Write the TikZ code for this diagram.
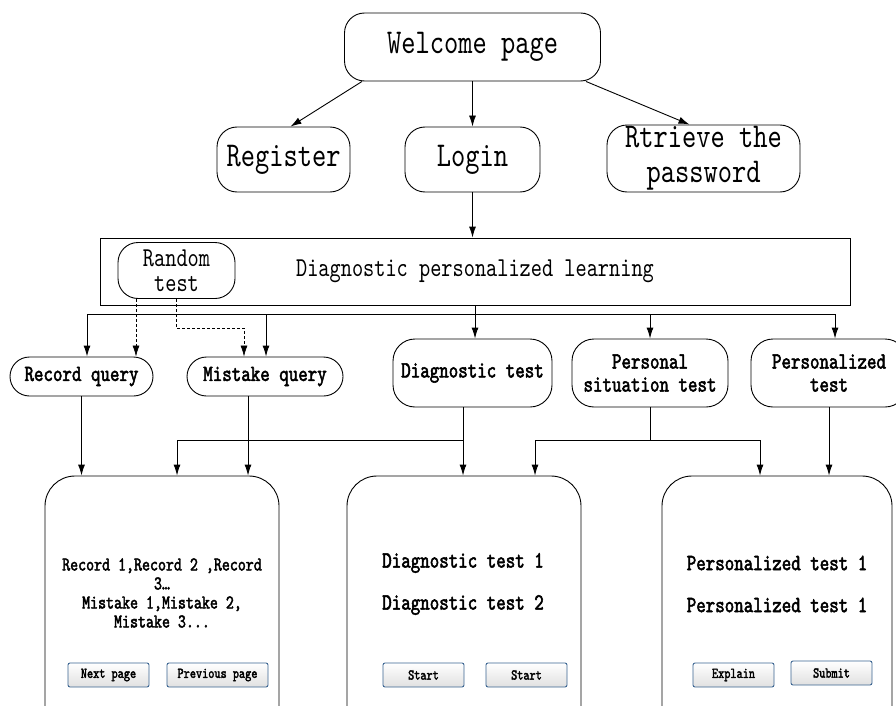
\documentclass[tikz,border=0pt]{standalone}
\usepackage{fontspec}
\newfontfamily\monofont{lmmono10-regular.otf}[BoldFont=lmmono10-regular.otf,BoldFeatures={FakeBold=2.2},FakeStretch=0.78]
\usetikzlibrary{positioning,arrows.meta}
\definecolor{btnblue}{RGB}{58,100,145}

\begin{document}
\begin{tikzpicture}[x=1pt,y=-1pt,line width=0.9pt,
    arr/.style={-{Latex[length=11pt,width=7pt]}},
    dsh/.style={arr,line width=0.7pt,dash pattern=on 3pt off 2pt},
    rbox/.style={draw,rounded corners=20pt,align=center,inner sep=0pt,font=\monofont\fontsize{34.8}{35}\selectfont},
    mbox/.style={draw,rounded corners=22pt,align=center,inner sep=0pt,minimum height=68pt,font=\monofont\bfseries\fontsize{23.2}{23}\selectfont},
    page/.style={draw,rounded corners=30pt,minimum width=234pt,minimum height=270pt},
    txt/.style={align=center,font=\monofont\bfseries\fontsize{23.2}{19}\selectfont},
    btn/.style={draw=btnblue,rounded corners=2pt,top color=white,bottom color=black!12,minimum width=81pt,minimum height=24pt,inner sep=0pt,font=\monofont\bfseries\fontsize{15}{12}\selectfont}]

    \clip (0,0) rectangle (896,706);

    % start and account
    \node[rbox,minimum width=256pt,minimum height=68pt] (welcome) at (472.5,47) {Welcome page};
    \node[rbox,minimum width=133pt,minimum height=65pt] (register) at (283.5,159.5) {Register};
    \node[rbox,minimum width=135pt,minimum height=65pt] (login) at (472.5,159.5) {Login};
    \node[rbox,minimum width=193pt,minimum height=67pt] (retrieve) at (703.5,158.5) {Rtrieve the\\password};
    \draw[arr] ([xshift=18pt]welcome.south west) -- ([xshift=7pt]register.north);
    \draw[arr] (welcome.south) -- (login.north);
    \draw[arr] ([xshift=-15pt]welcome.south east) -- ([xshift=-14pt]retrieve.north);

    % learning module
    \node[draw,minimum width=750pt,minimum height=67pt,inner sep=0pt,font=\monofont\fontsize{27.3}{25}\selectfont] (diag) at (475,271.5) {Diagnostic personalized learning};
    \node[rbox,minimum width=117pt,minimum height=56pt,font=\monofont\fontsize{27.3}{25}\selectfont] (random) at (176.5,270.5) {Random\\test};
    \draw[arr] (login.south) -- (login.south |- diag.north);

    \node[mbox,rounded corners=19.5pt,minimum width=143pt,minimum height=39pt] (record) at (81.5,376.5) {Record query};
    \node[mbox,rounded corners=19.5pt,minimum width=156pt,minimum height=39pt] (mistake) at (265,376.5) {Mistake query};
    \node[mbox,minimum width=159pt] (dtest) at (472.5,373) {Diagnostic test};
    \node[mbox,minimum width=156pt] (pstest) at (650,373) {Personal\\situation test};
    \node[mbox,minimum width=156pt] (ptest) at (829,373) {Personalized\\test};

    \draw (87,314) -- (835,314);
    \foreach \xb/\to in {87/record,266/mistake,650/pstest,835/ptest}
        \draw[arr] (\xb,314) -- (\xb,314 |- \to.north);
    \draw[arr] (diag.south) -- (diag.south |- dtest.north);
    \draw[dsh] ([xshift=-40.5pt]random.south) -- ([xshift=-40.5pt]random.south |- record.north);
    \draw[dsh] (random.south) |- (244,328) -- (244,328 |- mistake.north);

    % pages
    \node[page] (pg1) at (162,611) {};
    \node[page] (pg2) at (464,611) {};
    \node[page,minimum width=230pt] (pg3) at (777,611) {};

    \coordinate (j1) at (463,440);
    \coordinate (j2) at (650,440);
    \draw[arr] (record.south) -- (record.south |- pg1.north);
    \draw[arr] ([xshift=-17pt]mistake.south) -- ([xshift=-17pt]mistake.south |- pg1.north);
    \draw[arr] ([xshift=-9.5pt]dtest.south) -- ([xshift=-9.5pt]dtest.south |- pg2.north);
    \draw[arr] (j1) -| ([xshift=15pt]pg1.north);
    \draw (pstest.south) -- (j2);
    \draw[arr] (j2) -| ([xshift=71pt]pg2.north);
    \draw[arr] (j2) -| ([xshift=-17pt]pg3.north);
    \draw[arr] (ptest.south) -- (ptest.south |- pg3.north);

    \node[txt,font=\monofont\bfseries\fontsize{19.5}{19}\selectfont] (rtxt) at (162,593) {Record 1,Record 2 ,Record\\3…\\Mistake 1,Mistake 2,\\Mistake 3...};
    \node[txt] (dt1) at (463,563) {Diagnostic test 1};
    \node[txt] (dt2) at (463,605) {Diagnostic test 2};
    \node[txt] (pt1) at (777,563) {Personalized test 1};
    \node[txt] (pt2) at (777,605) {Personalized test 1};

    \node[btn] (next) at (108.5,675) {Next page};
    \node[btn,minimum width=101pt] (prev) at (217.5,675) {Previous page};
    \node[btn] (start1) at (423.5,675) {Start};
    \node[btn] (start2) at (526.5,675) {Start};
    \node[btn] (explain) at (733.5,675) {Explain};
    \node[btn] (submit) at (831.5,673) {Submit};
\end{tikzpicture}
\end{document}
